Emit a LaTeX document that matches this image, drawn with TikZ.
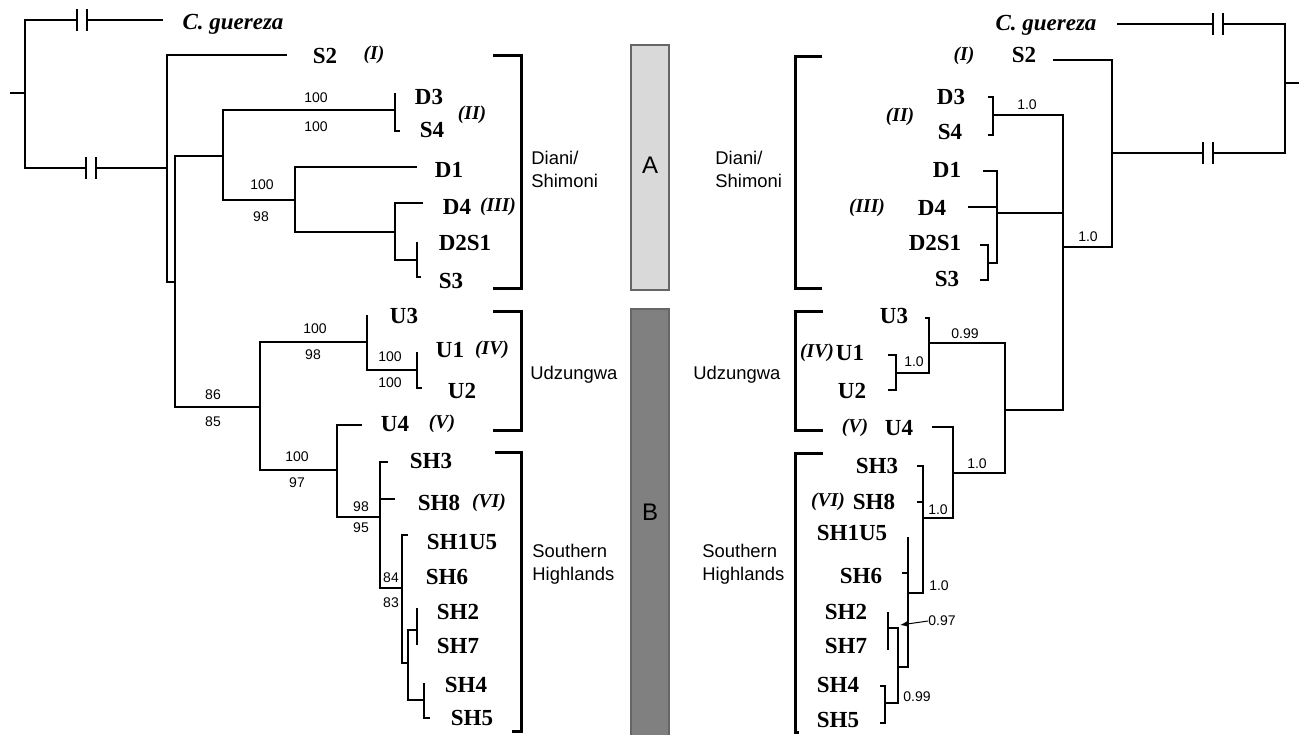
\documentclass[tikz,border=0pt]{standalone}
\usepackage{fontspec}
\setmainfont{Liberation Serif}
\setsansfont{Liberation Sans}
\usepackage{tikz}
\usetikzlibrary{arrows.meta}
\definecolor{barA}{HTML}{D9D9D9}
\definecolor{barB}{HTML}{808080}
\newcommand\taxfont{\bfseries\fontsize{11.5}{12}\selectfont}
\newcommand\hapfont{\bfseries\itshape\fontsize{9.8}{11}\selectfont}
\newcommand\supfont{\sffamily\fontsize{7}{8}\selectfont}
\newcommand\regfont{\sffamily\fontsize{9.2}{11.5}\selectfont}
\tikzset{
  taxon/.style={font=\taxfont, inner sep=0pt},
  outgroup/.style={font=\bfseries\itshape\fontsize{11.5}{12}\selectfont, inner sep=0pt},
  hapl/.style={font=\hapfont, inner sep=0pt},
  support/.style={font=\supfont, inner sep=0pt},
  region/.style={font=\regfont, align=left, anchor=west, inner sep=0pt},
  barlabel/.style={font=\sffamily\fontsize{12}{12}\selectfont, inner sep=0pt},
  branch/.style={line width=1.4pt},
  bracket/.style={line width=1.5pt},
  clusterbar/.style={draw=black!60, line width=0.7pt},
  supparrow/.style={-{Latex[length=4pt, width=3pt]}, line width=0.5pt},
  gapmark/.pic={\fill[white] (-5,-4) rectangle (5,4);
    \draw[branch] (-5,-11) -- (-5,11) (5,-11) -- (5,11);}
}

\begin{document}
\begin{tikzpicture}[x=0.5pt, y=-0.5pt]
  \useasboundingbox (0,0) rectangle (1299,734);

  % haplogroup bars
  \draw[clusterbar, fill=barA] (631,45) rectangle (669,290);
  \draw[clusterbar, fill=barB] (631,309) rectangle (669,740);
  \node[barlabel] (barAlab) at (650,165) {A};
  \node[barlabel] (barBlab) at (650,512) {B};

  % region brackets
  \draw[bracket] (493,55) -- (521,55) -- (521,288) -- (493,288);
  \draw[bracket] (493,311) -- (521,311) -- (521,430) -- (493,430);
  \draw[bracket] (495,452) -- (521,452) -- (521,731) -- (512,731);
  \draw[bracket] (822,56) -- (795,56) -- (795,288) -- (822,288);
  \draw[bracket] (823,311) -- (795,311) -- (795,430) -- (823,430);
  \draw[bracket] (823,453) -- (795,453) -- (795,732) -- (799,732);
  \node[region] (LregDS) at (531,169) {Diani/\\Shimoni};
  \node[region] (LregU) at (530,375) {Udzungwa};
  \node[region] (LregSH) at (532,564) {Southern\\Highlands};
  \node[region] (RregDS) at (715,169) {Diani/\\Shimoni};
  \node[region] (RregU) at (693,375) {Udzungwa};
  \node[region] (RregSH) at (702,564) {Southern\\Highlands};

  % left tree: junctions
  \coordinate (Lstub) at (10,93);
  \coordinate (L0) at (25,93);
  \coordinate (LA) at (167,168);
  \coordinate (LB) at (175,282);
  \coordinate (LC) at (223,156);
  \coordinate (LD) at (395,110);
  \coordinate (LE) at (295,200);
  \coordinate (LF) at (395,232);
  \coordinate (LFs) at (417,260);
  \coordinate (LG) at (260,407);
  \coordinate (LH) at (367,342);
  \coordinate (LHu) at (417,370);
  \coordinate (LI) at (337,470);
  \coordinate (LJ) at (380,517);
  \coordinate (LK) at (402,588);
  \coordinate (LL) at (408,663);
  \coordinate (LM) at (417,630);
  \coordinate (LN) at (424,700);
  % left tree: tips
  \coordinate (LtCg) at (163,20);
  \coordinate (LtS2) at (287,55);
  \coordinate (LtD3) at (395,93);
  \coordinate (LtS4) at (400,131);
  \coordinate (LtD1) at (417,167);
  \coordinate (LtD4) at (423,203);
  \coordinate (LtD2S1) at (417,242);
  \coordinate (LtS3) at (421,277);
  \coordinate (LtU3) at (367,315);
  \coordinate (LtU1) at (417,352);
  \coordinate (LtU2) at (422,388);
  \coordinate (LtU4) at (362,425);
  \coordinate (LtSH3) at (388,462);
  \coordinate (LtSH8) at (395,499);
  \coordinate (LtSH1U5) at (408,535);
  \coordinate (LtSH2) at (417,608);
  \coordinate (LtSH7) at (417,645);
  \coordinate (LtSH4) at (424,683);
  \coordinate (LtSH5) at (430,718);

  \draw[branch] (Lstub) -- (L0) |- (LtCg) (L0) |- (LA);
  \draw[branch] (LA) |- (LtS2) (LA) |- (LB);
  \draw[branch] (LB) |- (LC) (LB) |- (LG);
  \draw[branch] (LC) |- (LD) (LC) |- (LE);
  \draw[branch] (LD) |- (LtD3) (LD) |- (LtS4);
  \draw[branch] (LE) |- (LtD1) (LE) |- (LF);
  \draw[branch] (LF) |- (LtD4) (LF) |- (LFs);
  \draw[branch] (LFs) |- (LtD2S1) (LFs) |- (LtS3);
  \draw[branch] (LG) |- (LH) (LG) |- (LI);
  \draw[branch] (LH) |- (LtU3) (LH) |- (LHu);
  \draw[branch] (LHu) |- (LtU1) (LHu) |- (LtU2);
  \draw[branch] (LI) |- (LtU4) (LI) |- (LJ);
  \draw[branch] (LJ) |- (LtSH3) (LJ) |- (LtSH8) (LJ) |- (LK);
  \draw[branch] (LK) |- (LtSH1U5) (LK) |- (LL);
  \draw[branch] (LL) |- (LM) (LL) |- (LN);
  \draw[branch] (LM) |- (LtSH2) (LM) |- (LtSH7);
  \draw[branch] (LN) |- (LtSH4) (LN) |- (LtSH5);
  \pic at (82,20) {gapmark};
  \pic at (91,168) {gapmark};

  % left tree: labels
  \node[outgroup] (LCg) at (233,24) {C.~guereza};
  \node[taxon] (LS2) at (325,56) {S2};
  \node[hapl] (LhI) at (374,55) {(I)};
  \node[taxon] (LD3) at (429,97) {D3};
  \node[taxon] (LS4) at (432,130) {S4};
  \node[hapl] (LhII) at (472,115) {(II)};
  \node[taxon] (LD1) at (449,170) {D1};
  \node[taxon] (LD4) at (457,207) {D4};
  \node[hapl] (LhIII) at (498,207) {(III)};
  \node[taxon] (LD2S1) at (465,243) {D2S1};
  \node[taxon] (LS3) at (451,281) {S3};
  \node[taxon] (LU3) at (404,316) {U3};
  \node[taxon] (LU1) at (450,350) {U1};
  \node[hapl] (LhIV) at (492,350) {(IV)};
  \node[taxon] (LU2) at (462,391) {U2};
  \node[taxon] (LU4) at (395,424) {U4};
  \node[hapl] (LhV) at (442,424) {(V)};
  \node[taxon] (LSH3) at (431,461) {SH3};
  \node[taxon] (LSH8) at (439,503) {SH8};
  \node[hapl] (LhVI) at (489,503) {(VI)};
  \node[taxon] (LSH1U5) at (462,542) {SH1U5};
  \node[taxon] (LSH6) at (447,577) {SH6};
  \node[taxon] (LSH2) at (458,612) {SH2};
  \node[taxon] (LSH7) at (458,646) {SH7};
  \node[taxon] (LSH4) at (466,685) {SH4};
  \node[taxon] (LSH5) at (472,718) {SH5};
  % left tree: support values
  \node[support] (LsD1) at (316,98) {100};
  \node[support] (LsD2) at (316,127) {100};
  \node[support] (LsE1) at (262,185) {100};
  \node[support] (LsE2) at (261,217) {98};
  \node[support] (LsG1) at (213,395) {86};
  \node[support] (LsG2) at (213,422) {85};
  \node[support] (LsH1) at (315,329) {100};
  \node[support] (LsH2) at (313,355) {98};
  \node[support] (LsU1) at (390,357) {100};
  \node[support] (LsU2) at (390,383) {100};
  \node[support] (LsI1) at (297,457) {100};
  \node[support] (LsI2) at (297,483) {97};
  \node[support] (LsJ1) at (361,507) {98};
  \node[support] (LsJ2) at (361,528) {95};
  \node[support] (LsK1) at (391,578) {84};
  \node[support] (LsK2) at (391,603) {83};

  % right tree: junctions
  \coordinate (Rstub) at (1299,83);
  \coordinate (R0) at (1285,83);
  \coordinate (RA) at (1112,153);
  \coordinate (RB) at (1063,247);
  \coordinate (RC) at (993,115);
  \coordinate (RD) at (997,213);
  \coordinate (RDs) at (988,263);
  \coordinate (RE) at (1005,410);
  \coordinate (RF) at (929,343);
  \coordinate (RFu) at (896,373);
  \coordinate (RG) at (953,473);
  \coordinate (RH) at (923,518);
  \coordinate (RI) at (908,593);
  \coordinate (RJ) at (898,667);
  \coordinate (RK) at (888,628);
  \coordinate (RL) at (885,703);
  \coordinate (RKarr) at (900,625);
  % right tree: tips
  \coordinate (RtCg) at (1117,24);
  \coordinate (RtS2) at (1053,60);
  \coordinate (RtD3) at (988,97);
  \coordinate (RtS4) at (988,135);
  \coordinate (RtD1) at (983,171);
  \coordinate (RtD4) at (968,207);
  \coordinate (RtD2S1) at (980,245);
  \coordinate (RtS3) at (980,280);
  \coordinate (RtU3) at (925,318);
  \coordinate (RtU1) at (888,355);
  \coordinate (RtU2) at (888,390);
  \coordinate (RtU4) at (932,427);
  \coordinate (RtSH3) at (917,466);
  \coordinate (RtSH8) at (917,502);
  \coordinate (RtSH1U5) at (908,537);
  \coordinate (RtSH6) at (902,573);
  \coordinate (RtSH2) at (888,612);
  \coordinate (RtSH7) at (888,650);
  \coordinate (RtSH4) at (880,686);
  \coordinate (RtSH5) at (880,723);

  \draw[branch] (Rstub) -- (R0) |- (RtCg) (R0) |- (RA);
  \draw[branch] (RA) |- (RtS2) (RA) |- (RB);
  \draw[branch] (RB) |- (RC) (RB) |- (RD) (RB) |- (RE);
  \draw[branch] (RC) |- (RtD3) (RC) |- (RtS4);
  \draw[branch] (RD) |- (RtD1) (RD) |- (RtD4) (RD) |- (RDs);
  \draw[branch] (RDs) |- (RtD2S1) (RDs) |- (RtS3);
  \draw[branch] (RE) |- (RF) (RE) |- (RG);
  \draw[branch] (RF) |- (RtU3) (RF) |- (RFu);
  \draw[branch] (RFu) |- (RtU1) (RFu) |- (RtU2);
  \draw[branch] (RG) |- (RtU4) (RG) |- (RH);
  \draw[branch] (RH) |- (RtSH3) (RH) |- (RtSH8) (RH) |- (RI);
  \draw[branch] (RI) |- (RtSH1U5) (RI) |- (RtSH6) (RI) |- (RJ);
  \draw[branch] (RJ) |- (RK) (RJ) |- (RL);
  \draw[branch] (RK) |- (RtSH2) (RK) |- (RtSH7);
  \draw[branch] (RL) |- (RtSH4) (RL) |- (RtSH5);
  \pic at (1218,24) {gapmark};
  \pic at (1208,153) {gapmark};

  % right tree: labels
  \node[outgroup] (RCg) at (1046,25) {C.~guereza};
  \node[hapl] (RhI) at (964,56) {(I)};
  \node[taxon] (RS2) at (1024,55) {S2};
  \node[taxon] (RD3) at (951,97) {D3};
  \node[hapl] (RhII) at (900,117) {(II)};
  \node[taxon] (RS4) at (950,132) {S4};
  \node[taxon] (RD1) at (947,170) {D1};
  \node[hapl] (RhIII) at (867,208) {(III)};
  \node[taxon] (RD4) at (932,208) {D4};
  \node[taxon] (RD2S1) at (935,243) {D2S1};
  \node[taxon] (RS3) at (947,279) {S3};
  \node[taxon] (RU3) at (894,316) {U3};
  \node[hapl] (RhIV) at (817,353) {(IV)};
  \node[taxon] (RU1) at (850,353) {U1};
  \node[taxon] (RU2) at (852,391) {U2};
  \node[hapl] (RhV) at (855,428) {(V)};
  \node[taxon] (RU4) at (899,428) {U4};
  \node[taxon] (RSH3) at (877,466) {SH3};
  \node[hapl] (RhVI) at (828,502) {(VI)};
  \node[taxon] (RSH8) at (874,502) {SH8};
  \node[taxon] (RSH1U5) at (852,533) {SH1U5};
  \node[taxon] (RSH6) at (861,576) {SH6};
  \node[taxon] (RSH2) at (846,612) {SH2};
  \node[taxon] (RSH7) at (846,646) {SH7};
  \node[taxon] (RSH4) at (838,685) {SH4};
  \node[taxon] (RSH5) at (838,720) {SH5};
  % right tree: posterior probabilities
  \node[support] (RsC) at (1027,105) {1.0};
  \node[support] (RsB) at (1088,237) {1.0};
  \node[support] (RsF) at (965,334) {0.99};
  \node[support] (RsFu) at (914,362) {1.0};
  \node[support] (RsG) at (977,464) {1.0};
  \node[support] (RsH) at (938,510) {1.0};
  \node[support] (RsI) at (939,586) {1.0};
  \node[support] (RsK) at (942,621) {0.97};
  \node[support] (RsL) at (917,697) {0.99};
  \draw[supparrow] (RsK.west) -- (RKarr);
\end{tikzpicture}
\end{document}
